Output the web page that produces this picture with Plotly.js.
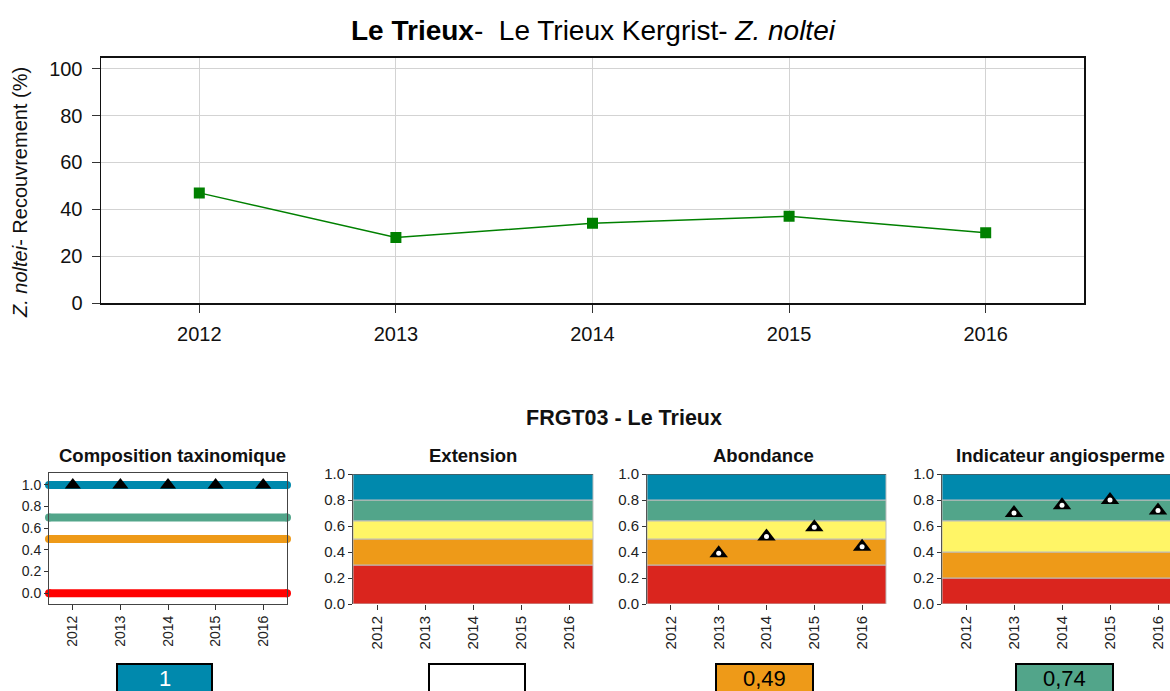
<!DOCTYPE html>
<html>
<head>
<meta charset="utf-8">
<script src="https://cdn.plot.ly/plotly-3.0.1.min.js"></script>
<style>
html,body{margin:0;padding:0;overflow:hidden;background:#fff;width:1170px;height:691px;}
#chart{width:1200px;height:691px;}
</style>
</head>
<body>
<div id="chart"></div>
<script>
// ---------- data ----------
const years = [2012, 2013, 2014, 2015, 2016];
const recouvrement = [47, 28, 34, 37, 30];

const compositionYears = [2012, 2013, 2014, 2015, 2016];
const compositionValues = [1, 1, 1, 1, 1];
const compositionLevels = [1.0, 0.7, 0.5, 0.0];

const abondanceYears = [2013, 2014, 2015, 2016];
const abondanceValues = [0.39, 0.52, 0.59, 0.44];

const angioYears = [2013, 2014, 2015, 2016];
const angioValues = [0.70, 0.76, 0.80, 0.72];

const stdBreaks = [0, 0.3, 0.5, 0.64, 0.8, 1.0];
const angioBreaks = [0, 0.2, 0.4, 0.64, 0.8, 1.0];

const panelTitles = ['Composition taxinomique', 'Extension', 'Abondance', 'Indicateur angiosperme'];
const scoreLabels = ['1', '', '0,49', '0,74'];

// ---------- styling ----------
const W = 1200, H = 691;
const fx = p => p / W;
const fy = p => 1 - p / H;
const FONT = 'Liberation Sans, Arial, sans-serif';
const bandColors = ['#DA251E', '#EE9A18', '#FFF566', '#52A58A', '#0089AD'];
const levelColors = ['#0089AD', '#52A58A', '#EE9A18', '#FF0000'];
const scoreFill = ['#0089AD', '#FFFFFF', '#EE9A18', '#52A58A'];
const scoreText = ['#FFFFFF', '#000000', '#000000', '#000000'];

const traces = [];
// main chart
traces.push({
  x: years, y: recouvrement, xaxis: 'x', yaxis: 'y',
  type: 'scatter', mode: 'lines+markers',
  line: {color: '#008000', width: 1.5},
  marker: {symbol: 'square', size: 11, color: '#008000'},
  hoverinfo: 'skip', showlegend: false
});

// panel 1 horizontal levels
compositionLevels.forEach((lv, i) => {
  traces.push({
    x: [2011.5, 2016.5], y: [lv, lv], xaxis: 'x2', yaxis: 'y2',
    type: 'scatter', mode: 'lines+markers', cliponaxis: false,
    line: {color: levelColors[i], width: 8},
    marker: {color: levelColors[i], size: 8, symbol: 'circle'},
    hoverinfo: 'skip', showlegend: false
  });
});
traces.push({
  x: compositionYears, y: compositionValues, xaxis: 'x2', yaxis: 'y2',
  type: 'scatter', mode: 'markers', cliponaxis: false,
  marker: {symbol: 'triangle-up', size: 14, color: '#000'},
  hoverinfo: 'skip', showlegend: false
});

// empty trace to make Extension axis exist
traces.push({x: [], y: [], xaxis: 'x3', yaxis: 'y3', type: 'scatter', mode: 'markers', showlegend: false});

function addPoints(xs, ys, xa, ya) {
  traces.push({
    x: xs, y: ys, xaxis: xa, yaxis: ya, type: 'scatter', mode: 'markers', cliponaxis: false,
    marker: {symbol: 'triangle-up', size: 16, color: '#000'},
    hoverinfo: 'skip', showlegend: false
  });
  traces.push({
    x: xs, y: ys, xaxis: xa, yaxis: ya, type: 'scatter', mode: 'markers', cliponaxis: false,
    marker: {symbol: 'circle', size: 5, color: '#fff', line: {width: 0}},
    hoverinfo: 'skip', showlegend: false
  });
}
addPoints(abondanceYears, abondanceValues, 'x4', 'y4');
addPoints(angioYears, angioValues, 'x5', 'y5');

// ---------- axes ----------
const smallX = (l, r, fs) => ({
  domain: [fx(l), fx(r)], range: [2011.5, 2016.5], tickvals: years, ticktext: years.map(String),
  tickangle: -90, ticks: 'outside', ticklen: 5, tickcolor: '#333', showgrid: false, zeroline: false,
  showline: false, tickfont: {family: FONT, size: fs, color: '#222'}, fixedrange: true
});
const smallY = (range, top, bottom, fs) => ({
  domain: [fy(bottom), fy(top)], range: range, tickvals: [0, 0.2, 0.4, 0.6, 0.8, 1.0],
  tickformat: '.1f', ticks: 'outside', ticklen: 4, tickcolor: '#333', showgrid: false, zeroline: false,
  showline: true, linecolor: '#555', linewidth: 1, tickfont: {family: FONT, size: fs, color: '#222'}, fixedrange: true
});

const layout = {
  width: W, height: H, margin: {l: 0, r: 0, t: 0, b: 0},
  paper_bgcolor: '#fff', plot_bgcolor: 'rgba(0,0,0,0)', showlegend: false,
  font: {family: FONT, color: '#000'},
  xaxis: {
    domain: [fx(101), fx(1084)], range: [2011.5, 2016.5], tickvals: years, ticktext: years.map(String),
    ticks: 'outside', ticklen: 8, tickcolor: '#333', showgrid: true, gridcolor: '#d3d3d3', gridwidth: 1,
    zeroline: false, showline: true, mirror: true, linecolor: '#111', linewidth: 1.5, ticklabelstandoff: 4,
    tickfont: {family: FONT, size: 20, color: '#111'}, fixedrange: true
  },
  yaxis: {
    domain: [fy(303), fy(57.7)], range: [0, 104.7], tickvals: [0, 20, 40, 60, 80, 100],
    ticks: 'outside', ticklen: 8, tickcolor: '#333', showgrid: true, gridcolor: '#d3d3d3', gridwidth: 1,
    zeroline: false, showline: true, mirror: true, linecolor: '#111', linewidth: 1.5, ticklabelstandoff: 5,
    tickfont: {family: FONT, size: 20, color: '#111'}, fixedrange: true
  },
  xaxis2: Object.assign(smallX(49, 287, 14), {anchor: 'y2', showline: true, mirror: true, linecolor: '#444', linewidth: 1}),
  yaxis2: Object.assign(smallY([-0.1, 1.11], 473, 604, 14), {anchor: 'x2', mirror: true, linecolor: '#444'}),
  xaxis3: Object.assign(smallX(353, 593, 15), {anchor: 'y3'}),
  yaxis3: Object.assign(smallY([0, 1], 474, 604, 15), {anchor: 'x3'}),
  xaxis4: Object.assign(smallX(647, 886, 15), {anchor: 'y4'}),
  yaxis4: Object.assign(smallY([0, 1], 474, 604, 15), {anchor: 'x4'}),
  xaxis5: Object.assign(smallX(942, 1182, 15), {anchor: 'y5'}),
  yaxis5: Object.assign(smallY([0, 1], 474, 604, 15), {anchor: 'x5'}),
  shapes: [],
  annotations: []
};
layout.xaxis.anchor = 'y';
layout.yaxis.anchor = 'x';

// bands
function addBands(breaks, xr, yr) {
  for (let i = 0; i < breaks.length - 1; i++) {
    layout.shapes.push({
      type: 'rect', xref: xr + ' domain', yref: yr, x0: 0, x1: 1, y0: breaks[i], y1: breaks[i + 1],
      fillcolor: bandColors[i], line: {color: '#BDBDBD', width: 1}, layer: 'below'
    });
  }
  layout.shapes.push({
    type: 'line', xref: xr + ' domain', yref: yr, x0: 0, x1: 1, y0: 1, y1: 1,
    line: {color: '#222', width: 1}, layer: 'below'
  });
}
addBands(stdBreaks, 'x3', 'y3');
addBands(stdBreaks, 'x4', 'y4');
addBands(angioBreaks, 'x5', 'y5');

// score boxes
const boxX = [[117, 212], [429, 525], [716, 813], [1016, 1113]];
boxX.forEach((b, i) => {
  layout.shapes.push({
    type: 'rect', xref: 'paper', yref: 'paper', x0: fx(b[0]), x1: fx(b[1]), y0: fy(705), y1: fy(664),
    fillcolor: scoreFill[i], line: {color: '#000', width: 2}
  });
  if (scoreLabels[i]) {
    layout.annotations.push({
      xref: 'paper', yref: 'paper', x: fx((b[0] + b[1]) / 2), y: fy(678), xanchor: 'center', yanchor: 'middle',
      text: scoreLabels[i], showarrow: false, font: {family: FONT, size: 22, color: scoreText[i]}
    });
  }
});

// titles
layout.annotations.push({
  xref: 'paper', yref: 'paper', x: fx(593), y: fy(30), xanchor: 'center', yanchor: 'middle', showarrow: false,
  text: '<b>Le Trieux</b>-&nbsp;&nbsp;Le Trieux Kergrist- <i>Z. noltei</i>', font: {family: FONT, size: 28, color: '#000'}
});
layout.annotations.push({
  xref: 'paper', yref: 'paper', x: fx(20), y: fy(193), xanchor: 'center', yanchor: 'middle', showarrow: false,
  textangle: -90, text: '<i>Z. noltei</i>- Recouvrement (%)', font: {family: FONT, size: 20, color: '#111'}
});
layout.annotations.push({
  xref: 'paper', yref: 'paper', x: fx(624), y: fy(418), xanchor: 'center', yanchor: 'middle', showarrow: false,
  text: '<b>FRGT03 - Le Trieux</b>', font: {family: FONT, size: 21.5, color: '#111'}
});
const titleX = [172, 473, 763, 1060];
panelTitles.forEach((t, i) => {
  layout.annotations.push({
    xref: 'paper', yref: 'paper', x: fx(titleX[i]), y: fy(455), xanchor: 'center', yanchor: 'middle', showarrow: false,
    text: '<b>' + t + '</b>', font: {family: FONT, size: 18.5, color: '#111'}
  });
});

Plotly.newPlot('chart', traces, layout, {displayModeBar: false, staticPlot: true});
</script>
</body>
</html>
